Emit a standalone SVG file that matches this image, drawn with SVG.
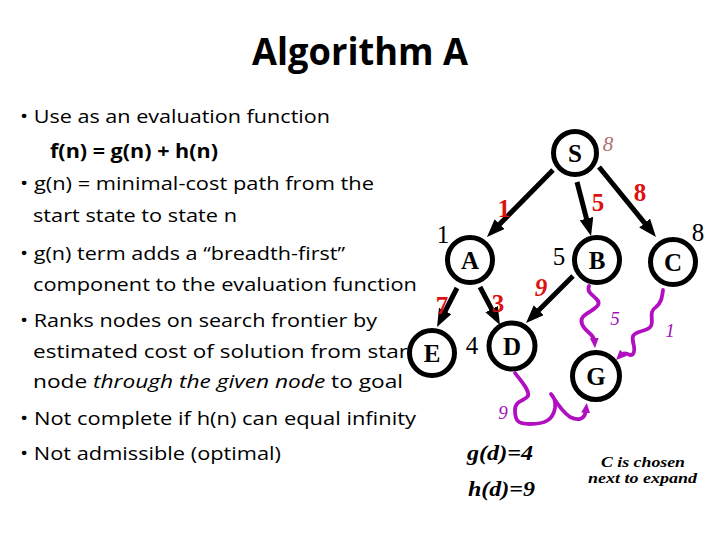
<svg xmlns="http://www.w3.org/2000/svg" width="720" height="540" viewBox="0 0 720 540">
<style>
.t{font-family:"Open Sans","Noto Sans",sans-serif;font-size:19px;fill:#000}
.title{font-family:"Open Sans","Noto Sans",sans-serif;font-size:38px;font-weight:bold;fill:#000}
.node circle{fill:#fff;stroke:#000;stroke-width:5}
.node text{font-family:"Liberation Serif",serif;font-size:25px;font-weight:bold;text-anchor:middle;fill:#000}
.num{font-family:"Liberation Serif",serif;font-size:25px;text-anchor:middle;fill:#000}
.red{font-family:"Liberation Serif",serif;font-size:25px;font-weight:bold;text-anchor:middle;fill:#dd1111}
.pur{font-family:"Liberation Serif",serif;font-size:19px;font-style:italic;text-anchor:middle;fill:#a010b8}
.note{font-family:"Liberation Serif",serif;font-weight:bold;font-style:italic;fill:#000}
.edge{stroke:#000;stroke-width:5;fill:none;marker-end:url(#ah)}
.sq{stroke:#b010c0;stroke-width:3.8;fill:none;stroke-linecap:round;stroke-linejoin:round;marker-end:url(#ph)}
</style>
<defs>
<marker id="ah" markerUnits="userSpaceOnUse" markerWidth="20" markerHeight="16" refX="6" refY="7" orient="auto">
<path d="M0,0 L18,7 L0,14 z" fill="#000"/>
</marker>
<marker id="ph" markerUnits="userSpaceOnUse" markerWidth="12" markerHeight="10" refX="3" refY="4.5" orient="auto">
<path d="M0,0 L10,4.5 L0,9 z" fill="#b010c0"/>
</marker>
</defs>
<rect width="720" height="540" fill="#fff"/>
<text class="title" x="252" y="65" textLength="216" lengthAdjust="spacingAndGlyphs">Algorithm A</text>
<g id="bullets">
<text class="t" x="20" y="123" textLength="310" lengthAdjust="spacingAndGlyphs">• Use as an evaluation function</text>
<text class="t" x="50" y="158" font-weight="bold" textLength="168" lengthAdjust="spacingAndGlyphs">f(n) = g(n) + h(n)</text>
<text class="t" x="20" y="190" textLength="354" lengthAdjust="spacingAndGlyphs">• g(n) = minimal-cost path from the</text>
<text class="t" x="33" y="222" textLength="204" lengthAdjust="spacingAndGlyphs">start state to state n</text>
<text class="t" x="20" y="260" textLength="325" lengthAdjust="spacingAndGlyphs">• g(n) term adds a “breadth-first”</text>
<text class="t" x="33" y="291" textLength="384" lengthAdjust="spacingAndGlyphs">component to the evaluation function</text>
<text class="t" x="20" y="327" textLength="357" lengthAdjust="spacingAndGlyphs">• Ranks nodes on search frontier by</text>
<text class="t" x="33" y="358" textLength="383" lengthAdjust="spacingAndGlyphs">estimated cost of solution from start</text>
<text class="t" x="33" y="388" textLength="370" lengthAdjust="spacingAndGlyphs">node <tspan font-style="italic">through the given node</tspan> to goal</text>
<text class="t" x="20" y="425" textLength="396" lengthAdjust="spacingAndGlyphs">• Not complete if h(n) can equal infinity</text>
<text class="t" x="20" y="460" textLength="261" lengthAdjust="spacingAndGlyphs">• Not admissible (optimal)</text>
</g>
<g id="connectors">
<line class="edge" x1="553" y1="170" x2="495.4" y2="228.4"/>
<line class="edge" x1="577" y1="182" x2="588" y2="224.4"/>
<line class="edge" x1="599" y1="167" x2="648.4" y2="227.7"/>
<line class="edge" x1="457" y1="288" x2="442.5" y2="316.3"/>
<line class="edge" x1="480" y1="287" x2="494.4" y2="314.4"/>
<line class="edge" x1="573" y1="276" x2="534.5" y2="314.5"/>
<path class="sq" d="M589,286 C585,295 602,298 598,305 C594,312 578,314 582,324 C585,332 594,334 594.5,341"/>
<path class="sq" d="M663,290 C662,298 661,303 656,307 C648,312 654,320 651,326 C648,332 636,330 633,336 C631,342 637,348 633,354 C630,358 626,350 621,355"/>
<path class="sq" d="M515,373 C520,380 530,390 528,396 C525,401 515,400 515,410 C515,420 517,424 530,424 C545,424 553,420 555,408 C556,400 553,396 551,394 C556,402 562,412 570,417 C578,421 585,420 586,410"/>
</g>
<g id="node-S" class="node"><circle cx="575" cy="153" r="21.5"/><text x="575" y="162">S</text></g>
<g id="node-A" class="node"><circle cx="470" cy="260" r="22.5"/><text x="470" y="269">A</text></g>
<g id="node-B" class="node"><circle cx="597" cy="260" r="22.5"/><text x="597" y="269">B</text></g>
<g id="node-C" class="node"><circle cx="673" cy="262" r="22.5"/><text x="673" y="271">C</text></g>
<g id="node-E" class="node"><circle cx="432" cy="353" r="22.5"/><text x="432" y="362">E</text></g>
<g id="node-D" class="node"><circle cx="512" cy="346" r="23"/><text x="512" y="355">D</text></g>
<g id="node-G" class="node"><circle cx="596" cy="376" r="23.5"/><text x="596" y="385">G</text></g>
<g id="labels">
<text x="608" y="151" font-family="Liberation Serif,serif" font-size="21" font-style="italic" fill="#b07070" text-anchor="middle">8</text>
<text class="num" x="443" y="243">1</text>
<text class="num" x="559" y="265">5</text>
<text class="num" x="698" y="241">8</text>
<text class="num" x="472" y="354">4</text>
<text class="red" x="504" y="217">1</text>
<text class="red" x="598" y="211">5</text>
<text class="red" x="640" y="201">8</text>
<text class="red" x="442" y="314">7</text>
<text class="red" x="498" y="312">3</text>
<text class="red" x="541" y="296" font-style="italic">9</text>
<text class="pur" x="615" y="325">5</text>
<text class="pur" x="670" y="337">1</text>
<text class="pur" x="503" y="419">9</text>
<text class="note" x="467" y="460" font-size="22" textLength="66" lengthAdjust="spacingAndGlyphs">g(d)=4</text>
<text class="note" x="468" y="496" font-size="22" textLength="67" lengthAdjust="spacingAndGlyphs">h(d)=9</text>
<text class="note" x="601" y="467" font-size="15" textLength="84" lengthAdjust="spacingAndGlyphs">C is chosen</text>
<text class="note" x="588" y="483" font-size="15" textLength="109" lengthAdjust="spacingAndGlyphs">next to expand</text>
</g>
</svg>
